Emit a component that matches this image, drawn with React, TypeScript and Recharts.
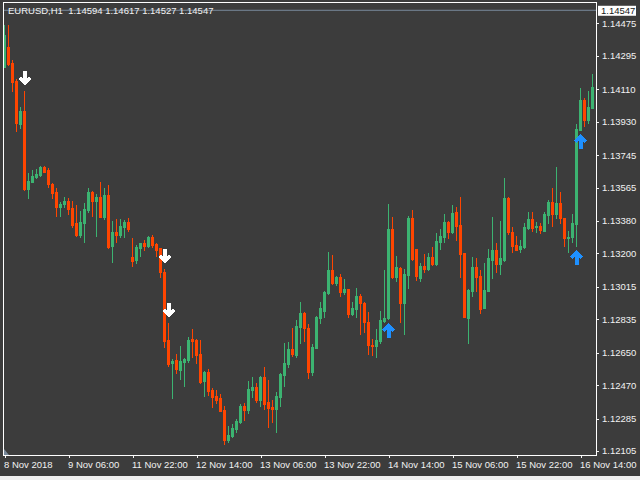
import React from 'react';
import { ComposedChart, Bar, XAxis, YAxis, ReferenceLine } from 'recharts';

// ---- data ----
const symbolTitle = 'EURUSD,H1';
const lastOpen = 1.14594;
const lastHigh = 1.14617;
const lastLow = 1.14527;
const lastClose = 1.14547;
const bidPrice = 1.14547;

const timeTickIndex = [0, 16, 32, 48, 64, 80, 96, 112, 128, 144];
const timeLabels = ['8 Nov 2018', '9 Nov 06:00', '11 Nov 22:00', '12 Nov 14:00', '13 Nov 06:00', '13 Nov 22:00', '14 Nov 14:00', '15 Nov 06:00', '15 Nov 22:00', '16 Nov 14:00'];

const priceTicks = [1.12105, 1.12285, 1.1247, 1.1265, 1.12835, 1.13015, 1.132, 1.1338, 1.13565, 1.13745, 1.1393, 1.1411, 1.14295, 1.14475];

const opens = [
  1.14234, 1.14344, 1.14257, 1.14157, 1.13917, 1.13989, 1.13558, 1.13597, 1.13622, 1.13634,
  1.13677, 1.13662, 1.13583, 1.13542, 1.13459, 1.13472, 1.13492, 1.13453, 1.1337, 1.13302,
  1.13367, 1.1344, 1.13542, 1.1349, 1.13514, 1.13403, 1.13524, 1.13241, 1.1332, 1.13302,
  1.13348, 1.13376, 1.13182, 1.13163, 1.13231, 1.13256, 1.13241, 1.13289, 1.13252, 1.13228,
  1.13099, 1.1272, 1.12591, 1.12609, 1.12554, 1.126, 1.12609, 1.12726, 1.1272, 1.12643,
  1.12493, 1.12541, 1.12443, 1.1241, 1.12397, 1.12332, 1.12166, 1.1219, 1.12225, 1.12264,
  1.12354, 1.12332, 1.12443, 1.12458, 1.12388, 1.12515, 1.12378, 1.1235, 1.12338, 1.12406,
  1.12526, 1.12587, 1.1267, 1.12637, 1.12794, 1.12868, 1.12785, 1.12543, 1.12677, 1.1284,
  1.12881, 1.12979, 1.13108, 1.13034, 1.13067, 1.12988, 1.13001, 1.12864, 1.12892, 1.12964,
  1.12927, 1.12821, 1.12692, 1.12689, 1.12715, 1.12827, 1.1284, 1.13335, 1.13071, 1.13117,
  1.12927, 1.1308, 1.13394, 1.13223, 1.13065, 1.1313, 1.13114, 1.13178, 1.13141, 1.13265,
  1.13292, 1.13374, 1.1332, 1.13429, 1.13357, 1.13201, 1.12844, 1.12992, 1.13123, 1.13075,
  1.12899, 1.12992, 1.13166, 1.13219, 1.13141, 1.13163, 1.13509, 1.13317, 1.13246, 1.13224,
  1.13234, 1.13339, 1.13391, 1.13348, 1.13353, 1.13326, 1.13413, 1.13486, 1.13418, 1.13481,
  1.13394, 1.13287, 1.13292, 1.13363, 1.13884, 1.1405, 1.13939, 1.14004,
];
const highs = [
  1.14466, 1.14466, 1.14272, 1.14166, 1.14011, 1.141, 1.13645, 1.13662, 1.13668, 1.13684,
  1.13686, 1.13671, 1.13588, 1.13561, 1.13486, 1.13511, 1.13505, 1.1349, 1.13468, 1.13435,
  1.13478, 1.13561, 1.13547, 1.13527, 1.13596, 1.13564, 1.13579, 1.13381, 1.13391, 1.13391,
  1.13385, 1.13394, 1.13287, 1.13246, 1.13259, 1.13274, 1.13296, 1.13302, 1.13256, 1.1323,
  1.13112, 1.12816, 1.12613, 1.12643, 1.12687, 1.1262, 1.12735, 1.12781, 1.12726, 1.1272,
  1.12548, 1.12558, 1.12452, 1.12443, 1.12419, 1.12354, 1.12244, 1.12255, 1.12282, 1.12365,
  1.12369, 1.12493, 1.12515, 1.1248, 1.12521, 1.1257, 1.12498, 1.12388, 1.12434, 1.12537,
  1.12702, 1.12709, 1.12788, 1.12831, 1.12929, 1.12874, 1.12809, 1.12698, 1.12855, 1.12929,
  1.12993, 1.13209, 1.13191, 1.13076, 1.13086, 1.13058, 1.13005, 1.12932, 1.13007, 1.12975,
  1.12932, 1.12874, 1.12726, 1.12781, 1.12881, 1.13108, 1.13474, 1.134, 1.13185, 1.13122,
  1.13112, 1.13407, 1.1344, 1.13227, 1.13145, 1.13197, 1.13204, 1.13234, 1.13315, 1.13333,
  1.13418, 1.13381, 1.13468, 1.13455, 1.13511, 1.13202, 1.13, 1.13182, 1.13173, 1.13108,
  1.13145, 1.13223, 1.13402, 1.13256, 1.13381, 1.13619, 1.13514, 1.13345, 1.13298, 1.13274,
  1.13367, 1.13431, 1.13431, 1.13376, 1.13367, 1.13428, 1.13496, 1.13564, 1.1368, 1.13542,
  1.13396, 1.13324, 1.13418, 1.13917, 1.14118, 1.14059, 1.14101, 1.14194,
];
const lows = [
  1.14233, 1.14244, 1.141, 1.1388, 1.13895, 1.13551, 1.13509, 1.13596, 1.13618, 1.1363,
  1.13649, 1.1357, 1.13509, 1.13407, 1.13407, 1.13455, 1.13417, 1.13345, 1.13296, 1.13292,
  1.13265, 1.13431, 1.13409, 1.13298, 1.13402, 1.13391, 1.13228, 1.13154, 1.13265, 1.13292,
  1.13292, 1.13324, 1.1313, 1.13145, 1.13185, 1.13219, 1.13237, 1.13237, 1.13185, 1.13071,
  1.1268, 1.12576, 1.12397, 1.12539, 1.12504, 1.12467, 1.126, 1.12624, 1.12594, 1.12484,
  1.1241, 1.12415, 1.12351, 1.12373, 1.12324, 1.12144, 1.12157, 1.12184, 1.12212, 1.12262,
  1.12277, 1.12317, 1.12406, 1.12378, 1.12356, 1.12336, 1.1224, 1.12267, 1.12212, 1.12354,
  1.12467, 1.12572, 1.12631, 1.12628, 1.12705, 1.12716, 1.1251, 1.12526, 1.12674, 1.12816,
  1.12849, 1.12975, 1.1303, 1.13025, 1.12966, 1.12975, 1.12849, 1.12859, 1.12849, 1.12753,
  1.12766, 1.12643, 1.12637, 1.12624, 1.12705, 1.12821, 1.12836, 1.13066, 1.13049, 1.12821,
  1.12752, 1.13007, 1.13166, 1.13053, 1.13049, 1.13099, 1.13108, 1.13136, 1.13138, 1.13224,
  1.13265, 1.13284, 1.13311, 1.13274, 1.13067, 1.12846, 1.12702, 1.12966, 1.12992, 1.12868,
  1.12895, 1.12989, 1.13064, 1.13099, 1.13084, 1.1316, 1.13307, 1.13209, 1.13216, 1.13209,
  1.13232, 1.13333, 1.13324, 1.1332, 1.13311, 1.13324, 1.13367, 1.13353, 1.13394, 1.1337,
  1.13241, 1.13209, 1.13265, 1.13243, 1.13881, 1.13908, 1.13921, 1.14003,
];
const closes = [
  1.1441, 1.14249, 1.14151, 1.13921, 1.13989, 1.13557, 1.13603, 1.13629, 1.1364, 1.13679,
  1.13653, 1.13584, 1.13533, 1.13459, 1.13474, 1.13492, 1.13446, 1.13357, 1.13302, 1.13376,
  1.13446, 1.13542, 1.1349, 1.13514, 1.13403, 1.13524, 1.13237, 1.1332, 1.13302, 1.13352,
  1.13376, 1.13335, 1.13158, 1.13237, 1.13256, 1.13241, 1.13289, 1.13246, 1.13219, 1.13097,
  1.12716, 1.12587, 1.12605, 1.12559, 1.12605, 1.12615, 1.1272, 1.12716, 1.12637, 1.12489,
  1.12541, 1.12438, 1.12406, 1.12388, 1.12328, 1.12166, 1.12194, 1.12231, 1.12273, 1.12354,
  1.12332, 1.12449, 1.12458, 1.12388, 1.12515, 1.12365, 1.12345, 1.12338, 1.1241, 1.12533,
  1.12591, 1.1267, 1.12643, 1.12798, 1.12868, 1.12785, 1.12543, 1.12683, 1.12849, 1.12896,
  1.12988, 1.13108, 1.13034, 1.13067, 1.12988, 1.13001, 1.12864, 1.12899, 1.12964, 1.12927,
  1.12821, 1.12692, 1.12689, 1.1272, 1.12831, 1.12844, 1.13335, 1.13071, 1.13123, 1.12927,
  1.13084, 1.13394, 1.13169, 1.13075, 1.1313, 1.13114, 1.13178, 1.13141, 1.13269, 1.13296,
  1.13374, 1.1332, 1.13425, 1.13353, 1.13197, 1.12849, 1.12997, 1.13123, 1.13071, 1.12892,
  1.12997, 1.13173, 1.13219, 1.13141, 1.13173, 1.13509, 1.13317, 1.13241, 1.13219, 1.13241,
  1.13348, 1.13391, 1.13339, 1.13353, 1.1333, 1.13418, 1.13486, 1.13418, 1.13481, 1.13394,
  1.13287, 1.13292, 1.13367, 1.13888, 1.1405, 1.13939, 1.14013, 1.14124,
];

const downSignals = [5, 40, 41];
const upSignals = [96, 143, 144];

// ---- style ----
const BG = '#3c3c3c';
const BULL = '#3cb371';
const BEAR = '#ff4500';
const FG = '#f2f2f2';
const FONT = '"Liberation Sans", Arial, sans-serif';

const data = opens.map((o, i) => ({
  i,
  o,
  h: highs[i],
  l: lows[i],
  c: closes[i],
  range: [lows[i], highs[i]],
}));

const downArrowPts = [
  [-2, -13], [2, -13], [2, -5], [4, -7], [6.5, -4.5], [0, 2], [-6.5, -4.5], [-4, -7], [-2, -5],
];

function Candle(props: any) {
  const { x, y, width, height, payload } = props;
  if (payload == null || x == null) return null;
  const top = Math.min(y, y + height);
  const h = Math.abs(height);
  const hi = payload.h;
  const lo = payload.l;
  const py = (p: number) => (hi === lo ? top : top + ((hi - p) / (hi - lo)) * h);
  const cx = Math.round(x + width / 2);
  const bull = payload.c >= payload.o;
  const color = bull ? BULL : BEAR;
  const bTop = Math.round(py(Math.max(payload.o, payload.c)));
  const bBot = Math.round(py(Math.min(payload.o, payload.c)));
  const wTop = Math.round(py(hi));
  const wBot = Math.round(py(lo));
  const a = cx + 0.5;
  const els: any[] = [];
  els.push(<rect key="w" x={cx} y={wTop} width={1} height={Math.max(1, wBot - wTop + 1)} fill={color} />);
  els.push(<rect key="b" x={cx - 1} y={bTop} width={3} height={Math.max(1, bBot - bTop + 1)} fill={color} />);
  if (downSignals.includes(payload.i)) {
    const ty = wTop - 7.5;
    const pts = downArrowPts.map(([px, pyy]) => `${a + px},${ty + pyy}`).join(' ');
    els.push(<polygon key="da" points={pts} fill="#ffffff" />);
  }
  if (upSignals.includes(payload.i)) {
    const ty = wBot + 6;
    const pts = downArrowPts.map(([px, pyy]) => `${a + px},${ty - pyy}`).join(' ');
    els.push(<polygon key="ua" points={pts} fill="#1e90ff" />);
  }
  return <g shapeRendering="crispEdges">{els}</g>;
}

function XTick(props: any) {
  const { x, y, payload } = props;
  const idx = timeTickIndex.indexOf(payload.value);
  const label = idx >= 0 ? timeLabels[idx] : '';
  const tx = Math.round(x);
  return (
    <g>
      <line x1={tx + 0.5} x2={tx + 0.5} y1={y} y2={y + 3} stroke={FG} strokeWidth={1} />
      <text x={tx - 1} y={y + 12.5} fill={FG} fontSize={9.5} fontFamily={FONT} textAnchor="start">
        {label}
      </text>
    </g>
  );
}

function YTick(props: any) {
  const { x, y, payload } = props;
  const ty = Math.round(y) + 0.5;
  return (
    <g>
      <line x1={x} x2={x + 3} y1={ty} y2={ty} stroke={FG} strokeWidth={1} />
      <text x={x + 6} y={y + 3.5} fill={FG} fontSize={9.5} fontFamily={FONT} textAnchor="start">
        {Number(payload.value).toFixed(5)}
      </text>
    </g>
  );
}

function BidLabel(props: any) {
  const vb = props.viewBox || {};
  const right = vb.x + vb.width;
  const y = vb.y;
  return (
    <g>
      <rect x={right + 2} y={y - 4.5} width={38} height={10} fill="#ffffff" />
      <text x={right + 5} y={y + 3.5} fill="#1a1a1a" fontSize={9.5} fontFamily={FONT}>
        {bidPrice.toFixed(5)}
      </text>
    </g>
  );
}

export default function App() {
  const header = `${symbolTitle}  ${lastOpen.toFixed(5)} ${lastHigh.toFixed(5)} ${lastLow.toFixed(5)} ${lastClose.toFixed(5)}`;
  return (
    <div style={{ position: 'absolute', left: 0, top: 0, width: 640, height: 480, background: '#f0f0f0', overflow: 'hidden' }}>
      <div style={{ position: 'relative', width: 640, height: 476, background: BG }}>
        <ComposedChart width={640} height={476} data={data} margin={{ top: 2, right: 0, bottom: 0, left: 4 }}>
          <XAxis
            dataKey="i"
            type="number"
            domain={[-0.15, 147.85]}
            ticks={timeTickIndex}
            interval={0}
            allowDataOverflow
            axisLine={false}
            tickLine={false}
            tickSize={0}
            tickMargin={0}
            height={21}
            tick={<XTick />}
          />
          <YAxis
            orientation="right"
            type="number"
            domain={[1.120828, 1.145929]}
            ticks={priceTicks}
            interval={0}
            allowDataOverflow
            axisLine={false}
            tickLine={false}
            tickSize={0}
            tickMargin={0}
            width={44}
            tick={<YTick />}
          />
          <ReferenceLine y={bidPrice} stroke="#778899" strokeWidth={1} ifOverflow="extendDomain" label={<BidLabel />} />
          <Bar dataKey="range" barSize={3} isAnimationActive={false} shape={(p: any) => <Candle {...p} />} />
        </ComposedChart>
        <svg width={640} height={476} style={{ position: 'absolute', left: 0, top: 0, pointerEvents: 'none' }}>
          <g shapeRendering="crispEdges">
            <line x1={3.5} x2={3.5} y1={2} y2={455.5} stroke="#ffffff" />
            <line x1={3} x2={597} y1={455.5} y2={455.5} stroke="#ffffff" />
            <line x1={596.5} x2={596.5} y1={2} y2={456} stroke="#ffffff" />
            <line x1={3} x2={597} y1={2.5} y2={2.5} stroke="#ffffff" />
          </g>
          <polygon points="4,449 4,455 9,455" fill="#778899" />
          <text x={8} y={13.5} fill={FG} fontSize={9.5} fontFamily={FONT} style={{ whiteSpace: 'pre' }}>
            {header}
          </text>
        </svg>
      </div>
    </div>
  );
}
